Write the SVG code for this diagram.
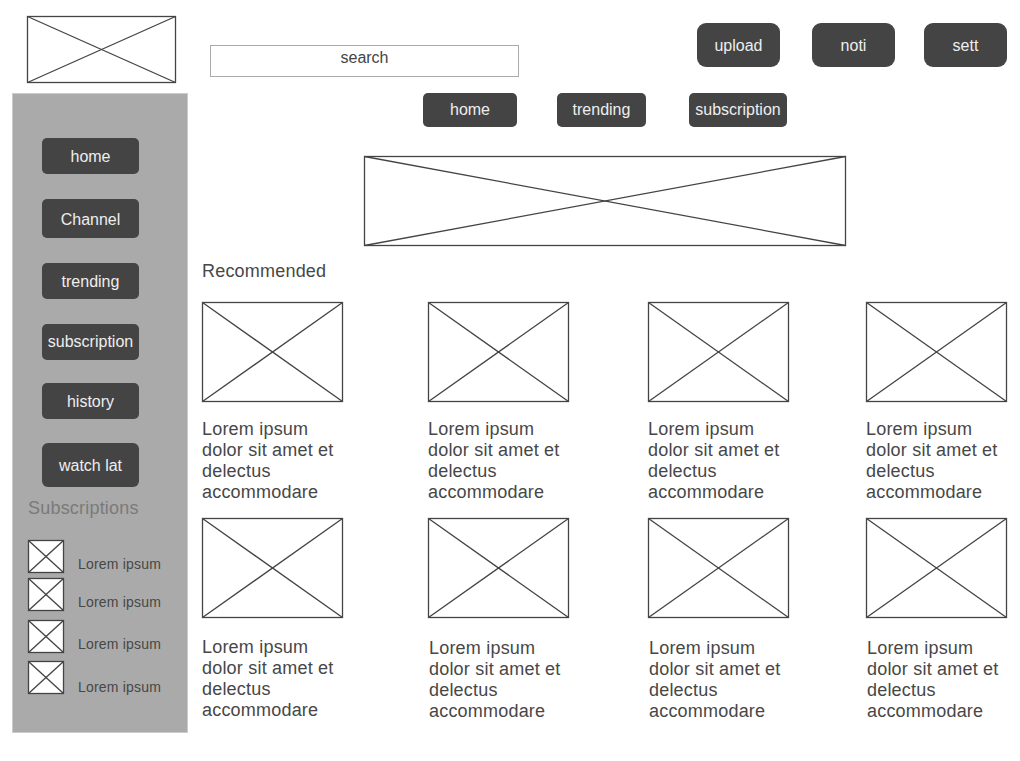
<svg xmlns="http://www.w3.org/2000/svg" width="1020" height="761" viewBox="0 0 1020 761">
<style>
  .img rect { fill: #ffffff; stroke: #444444; stroke-width: 1.3; }
  .img line { stroke: #444444; stroke-width: 1.3; }
  .btn rect { fill: #444444; }
  .btn text { fill: #eeeeee; font-family: "Liberation Sans", Arial, sans-serif; font-size: 16px; text-anchor: middle; }
  .txt { fill: #474747; font-family: "Liberation Sans", Arial, sans-serif; font-size: 18px; letter-spacing: 0.2px; }
  .small { fill: #474747; font-family: "Liberation Sans", Arial, sans-serif; font-size: 14px; letter-spacing: 0.2px; }
</style>
<rect x="0" y="0" width="1020" height="761" fill="#ffffff"/>

<g id="logo" class="img">
  <rect x="27.5" y="16.5" width="148" height="66"/>
  <line x1="27.5" y1="16.5" x2="175.5" y2="82.5"/>
  <line x1="175.5" y1="16.5" x2="27.5" y2="82.5"/>
</g>

<g id="search">
  <rect x="210.5" y="45.5" width="308" height="31" fill="#ffffff" stroke="#aaaaaa" stroke-width="1"/>
  <text x="364.5" y="63" text-anchor="middle" font-family="Liberation Sans, Arial, sans-serif" font-size="16" fill="#444444">search</text>
</g>

<g id="btn-upload" class="btn"><rect x="697" y="23" width="83" height="44" rx="9"/><text x="738.5" y="51">upload</text></g>
<g id="btn-noti" class="btn"><rect x="812" y="23" width="83" height="44" rx="9"/><text x="853.5" y="51">noti</text></g>
<g id="btn-sett" class="btn"><rect x="924" y="23" width="83" height="44" rx="9"/><text x="965.5" y="51">sett</text></g>

<g id="nav-home" class="btn"><rect x="423" y="93" width="94" height="34" rx="5"/><text x="470" y="115">home</text></g>
<g id="nav-trending" class="btn"><rect x="557" y="93" width="89" height="34" rx="5"/><text x="601.5" y="115">trending</text></g>
<g id="nav-subscription" class="btn"><rect x="689" y="93" width="98" height="34" rx="5"/><text x="738" y="115">subscription</text></g>

<g id="sidebar">
  <rect x="12.5" y="93.5" width="175" height="639" fill="#aaaaaa" stroke="#cccccc" stroke-width="1"/>
</g>

<g id="side-home" class="btn"><rect x="42" y="138" width="97" height="36" rx="5"/><text x="90.5" y="162">home</text></g>
<g id="side-channel" class="btn"><rect x="42" y="199" width="97" height="39" rx="5"/><text x="90.5" y="225">Channel</text></g>
<g id="side-trending" class="btn"><rect x="42" y="263" width="97" height="36" rx="5"/><text x="90.5" y="287">trending</text></g>
<g id="side-subscription" class="btn"><rect x="42" y="324" width="97" height="36" rx="5"/><text x="90.5" y="347">subscription</text></g>
<g id="side-history" class="btn"><rect x="42" y="383" width="97" height="36" rx="5"/><text x="90.5" y="407">history</text></g>
<g id="side-watch" class="btn"><rect x="42" y="443" width="97" height="44" rx="6"/><text x="90.5" y="471">watch lat</text></g>

<g id="subscriptions-title">
  <text x="28" y="514" font-family="Liberation Sans, Arial, sans-serif" font-size="18" fill="#7a7a7a" letter-spacing="0.2">Subscriptions</text>
</g>

<g id="sub1">
  <g class="img"><rect x="28.5" y="540.5" width="35" height="32"/><line x1="28.5" y1="540.5" x2="63.5" y2="572.5"/><line x1="63.5" y1="540.5" x2="28.5" y2="572.5"/></g>
  <text class="small" x="78" y="569">Lorem ipsum</text>
</g>
<g id="sub2">
  <g class="img"><rect x="28.5" y="578.5" width="35" height="32"/><line x1="28.5" y1="578.5" x2="63.5" y2="610.5"/><line x1="63.5" y1="578.5" x2="28.5" y2="610.5"/></g>
  <text class="small" x="78" y="607">Lorem ipsum</text>
</g>
<g id="sub3">
  <g class="img"><rect x="28.5" y="620.5" width="35" height="32"/><line x1="28.5" y1="620.5" x2="63.5" y2="652.5"/><line x1="63.5" y1="620.5" x2="28.5" y2="652.5"/></g>
  <text class="small" x="78" y="649">Lorem ipsum</text>
</g>
<g id="sub4">
  <g class="img"><rect x="28.5" y="661.5" width="35" height="32"/><line x1="28.5" y1="661.5" x2="63.5" y2="693.5"/><line x1="63.5" y1="661.5" x2="28.5" y2="693.5"/></g>
  <text class="small" x="78" y="692">Lorem ipsum</text>
</g>

<g id="banner" class="img">
  <rect x="364.5" y="156.5" width="481" height="89"/>
  <line x1="364.5" y1="156.5" x2="845.5" y2="245.5"/>
  <line x1="845.5" y1="156.5" x2="364.5" y2="245.5"/>
</g>

<g id="recommended-title">
  <text class="txt" x="202" y="277">Recommended</text>
</g>

<g id="video1">
  <g class="img"><rect x="202.5" y="302.5" width="140" height="99"/><line x1="202.5" y1="302.5" x2="342.5" y2="401.5"/><line x1="342.5" y1="302.5" x2="202.5" y2="401.5"/></g>
  <text class="txt" x="202" y="435"><tspan x="202">Lorem ipsum</tspan><tspan x="202" dy="21">dolor sit amet et</tspan><tspan x="202" dy="21">delectus</tspan><tspan x="202" dy="21">accommodare</tspan></text>
</g>
<g id="video2">
  <g class="img"><rect x="428.5" y="302.5" width="140" height="99"/><line x1="428.5" y1="302.5" x2="568.5" y2="401.5"/><line x1="568.5" y1="302.5" x2="428.5" y2="401.5"/></g>
  <text class="txt" x="428" y="435"><tspan x="428">Lorem ipsum</tspan><tspan x="428" dy="21">dolor sit amet et</tspan><tspan x="428" dy="21">delectus</tspan><tspan x="428" dy="21">accommodare</tspan></text>
</g>
<g id="video3">
  <g class="img"><rect x="648.5" y="302.5" width="140" height="99"/><line x1="648.5" y1="302.5" x2="788.5" y2="401.5"/><line x1="788.5" y1="302.5" x2="648.5" y2="401.5"/></g>
  <text class="txt" x="648" y="435"><tspan x="648">Lorem ipsum</tspan><tspan x="648" dy="21">dolor sit amet et</tspan><tspan x="648" dy="21">delectus</tspan><tspan x="648" dy="21">accommodare</tspan></text>
</g>
<g id="video4">
  <g class="img"><rect x="866.5" y="302.5" width="140" height="99"/><line x1="866.5" y1="302.5" x2="1006.5" y2="401.5"/><line x1="1006.5" y1="302.5" x2="866.5" y2="401.5"/></g>
  <text class="txt" x="866" y="435"><tspan x="866">Lorem ipsum</tspan><tspan x="866" dy="21">dolor sit amet et</tspan><tspan x="866" dy="21">delectus</tspan><tspan x="866" dy="21">accommodare</tspan></text>
</g>

<g id="video5">
  <g class="img"><rect x="202.5" y="518.5" width="140" height="99"/><line x1="202.5" y1="518.5" x2="342.5" y2="617.5"/><line x1="342.5" y1="518.5" x2="202.5" y2="617.5"/></g>
  <text class="txt" x="202" y="653"><tspan x="202">Lorem ipsum</tspan><tspan x="202" dy="21">dolor sit amet et</tspan><tspan x="202" dy="21">delectus</tspan><tspan x="202" dy="21">accommodare</tspan></text>
</g>
<g id="video6">
  <g class="img"><rect x="428.5" y="518.5" width="140" height="99"/><line x1="428.5" y1="518.5" x2="568.5" y2="617.5"/><line x1="568.5" y1="518.5" x2="428.5" y2="617.5"/></g>
  <text class="txt" x="429" y="654"><tspan x="429">Lorem ipsum</tspan><tspan x="429" dy="21">dolor sit amet et</tspan><tspan x="429" dy="21">delectus</tspan><tspan x="429" dy="21">accommodare</tspan></text>
</g>
<g id="video7">
  <g class="img"><rect x="648.5" y="518.5" width="140" height="99"/><line x1="648.5" y1="518.5" x2="788.5" y2="617.5"/><line x1="788.5" y1="518.5" x2="648.5" y2="617.5"/></g>
  <text class="txt" x="649" y="654"><tspan x="649">Lorem ipsum</tspan><tspan x="649" dy="21">dolor sit amet et</tspan><tspan x="649" dy="21">delectus</tspan><tspan x="649" dy="21">accommodare</tspan></text>
</g>
<g id="video8">
  <g class="img"><rect x="866.5" y="518.5" width="140" height="99"/><line x1="866.5" y1="518.5" x2="1006.5" y2="617.5"/><line x1="1006.5" y1="518.5" x2="866.5" y2="617.5"/></g>
  <text class="txt" x="867" y="654"><tspan x="867">Lorem ipsum</tspan><tspan x="867" dy="21">dolor sit amet et</tspan><tspan x="867" dy="21">delectus</tspan><tspan x="867" dy="21">accommodare</tspan></text>
</g>

<g id="connectors"></g>
</svg>
